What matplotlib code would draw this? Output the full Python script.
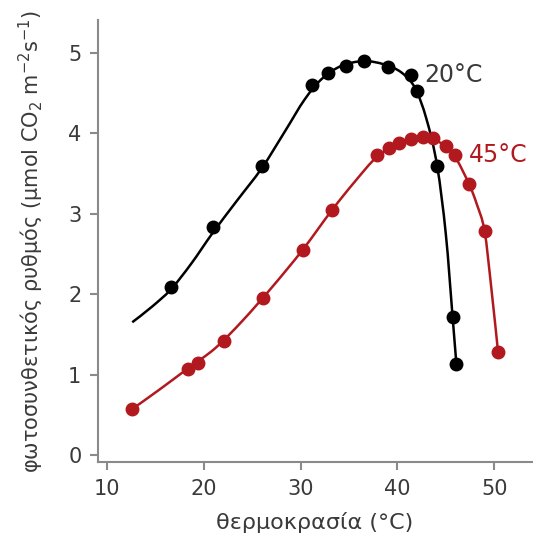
import matplotlib

matplotlib.use("Agg")
import matplotlib.pyplot as plt  # noqa: E402
from matplotlib.patches import PathPatch  # noqa: E402
from matplotlib.path import Path  # noqa: E402

# measured points, 20 °C grown plants
temp_20 = [16.6, 20.9, 26.0, 31.2, 32.8, 34.7, 36.5, 39.0, 41.4, 42.0, 44.1, 45.7, 46.1]
rate_20 = [2.09, 2.84, 3.59, 4.60, 4.75, 4.84, 4.90, 4.83, 4.73, 4.53, 3.59, 1.72, 1.13]

# measured points, 45 °C grown plants
temp_45 = [12.6, 18.35, 19.4, 22.1, 26.1, 30.2, 33.2, 37.9, 39.1, 40.2, 41.4,
           42.6, 43.7, 45.0, 45.9, 47.4, 49.0, 50.4]
rate_45 = [0.57, 1.07, 1.14, 1.42, 1.95, 2.55, 3.05, 3.73, 3.82, 3.88, 3.93,
           3.96, 3.94, 3.84, 3.73, 3.37, 2.79, 1.28]

# fitted curves
fit_x_20 = [12.6, 14.6, 16.6, 18.7, 20.9, 23.4, 26.0, 28.4, 30.4, 32.2, 34.2,
            36.5, 38.6, 40.4, 41.8, 43.0, 44.1, 45.0, 45.7, 46.1]
fit_y_20 = [1.65, 1.84, 2.06, 2.38, 2.76, 3.16, 3.57, 4.03, 4.42, 4.68, 4.84,
            4.90, 4.86, 4.76, 4.57, 4.18, 3.60, 2.75, 1.72, 1.12]
fit_x_45 = [12.6, 15.5, 18.4, 21.2, 24.0, 27.0, 30.2, 33.2, 35.6, 37.9, 40.2,
            42.6, 44.5, 45.9, 47.4, 48.2, 49.0, 49.7, 50.4]
fit_y_45 = [0.57, 0.82, 1.08, 1.33, 1.67, 2.08, 2.55, 3.04, 3.40, 3.71, 3.88,
            3.95, 3.88, 3.72, 3.37, 3.12, 2.79, 2.08, 1.28]

x_ticks = [10, 20, 30, 40, 50]
y_ticks = [0, 1, 2, 3, 4, 5]

BLACK = "#000000"
RED = "#b2191f"
GREY = "#8a8a8a"
TEXT = "#3a3a3a"


def smooth_path(xs, ys):
    # Catmull-Rom through the knots, drawn as cubic Bezier segments
    pts = list(zip(xs, ys))
    verts = [pts[0]]
    codes = [Path.MOVETO]
    n = len(pts)
    for i in range(n - 1):
        p0 = pts[max(i - 1, 0)]
        p1 = pts[i]
        p2 = pts[i + 1]
        p3 = pts[min(i + 2, n - 1)]
        c1 = (p1[0] + (p2[0] - p0[0]) / 6, p1[1] + (p2[1] - p0[1]) / 6)
        c2 = (p2[0] - (p3[0] - p1[0]) / 6, p2[1] - (p3[1] - p1[1]) / 6)
        verts += [c1, c2, p2]
        codes += [Path.CURVE4] * 3
    return Path(verts, codes)


fig = plt.figure(figsize=(5.33, 5.44), dpi=100)
ax = fig.add_axes([0.184, 0.151, 0.814, 0.812])

ax.add_patch(PathPatch(smooth_path(fit_x_20, fit_y_20), fill=False,
                       edgecolor=BLACK, lw=1.8, zorder=2))
ax.plot(temp_20, rate_20, "o", color=BLACK, markersize=9, zorder=3)
ax.add_patch(PathPatch(smooth_path(fit_x_45, fit_y_45), fill=False,
                       edgecolor=RED, lw=1.8, zorder=2))
ax.plot(temp_45, rate_45, "o", color=RED, markersize=9, zorder=3)

ax.text(42.8, 4.73, "20°C", color=TEXT, fontsize=17, va="center", ha="left")
ax.text(47.4, 3.73, "45°C", color=RED, fontsize=17, va="center", ha="left")

ax.set_xlim(9.07, 53.9)
ax.set_ylim(-0.087, 5.41)
ax.set_xticks(x_ticks)
ax.set_yticks(y_ticks)

for side in ("top", "right"):
    ax.spines[side].set_visible(False)
for side in ("left", "bottom"):
    ax.spines[side].set_color(GREY)
    ax.spines[side].set_linewidth(1.5)
ax.tick_params(axis="both", colors=GREY, labelcolor=TEXT, labelsize=15,
               length=6, width=1.5, direction="out", pad=6)

ax.set_xlabel("θερμοκρασία (°C)", fontsize=16, color=TEXT, labelpad=10)
ax.set_ylabel("φωτοσυνθετικός ρυθμός (μmol CO$_2$ m$^{-2}$s$^{-1}$)",
              fontsize=15, color=TEXT, labelpad=16)

fig.savefig("out.png", dpi=100)
plt.close(fig)
